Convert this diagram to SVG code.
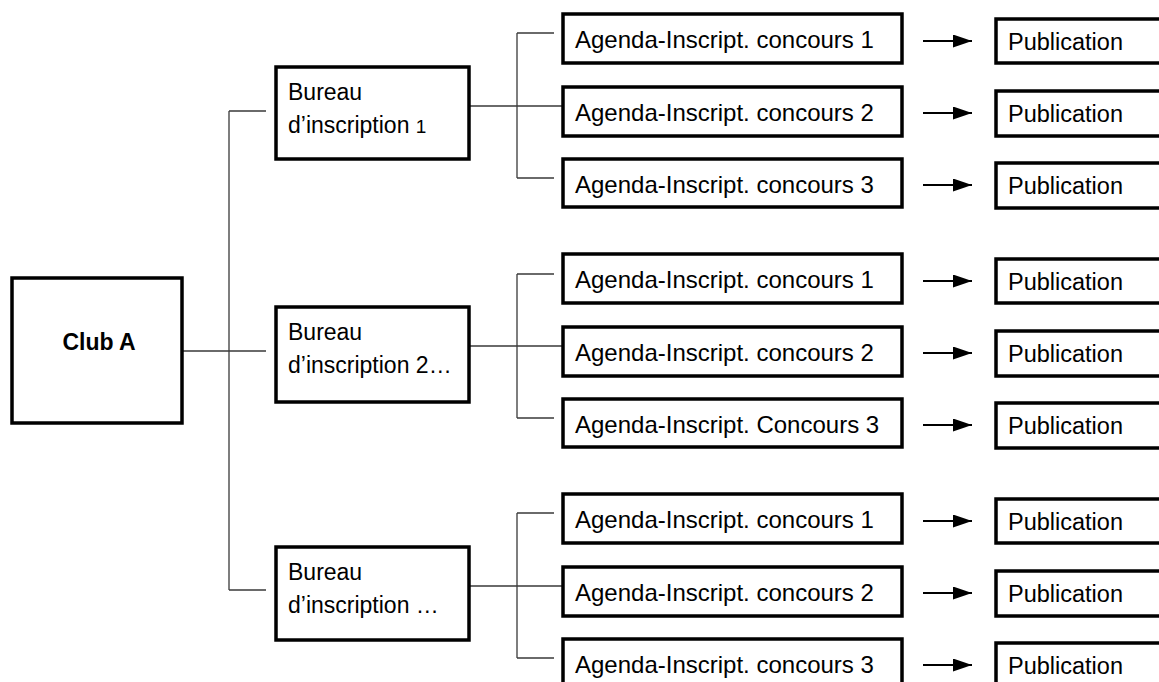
<svg xmlns="http://www.w3.org/2000/svg" width="1159" height="682" viewBox="0 0 1159 682">
<defs>
<style>
.box{fill:#fff;stroke:#000;stroke-width:3.5}
.t{font-family:"Liberation Sans",Arial,sans-serif;font-size:23px;fill:#000}
.a{font-size:24px}
.p{font-size:23.5px}
.b{font-weight:bold}
.c{fill:none;stroke:#3a3a3a;stroke-width:1.3}
.ar{fill:none;stroke:#000;stroke-width:2}
</style>
<marker id="ah" viewBox="0 0 10 10" refX="10" refY="5" markerWidth="19" markerHeight="13" markerUnits="userSpaceOnUse" orient="auto" preserveAspectRatio="none">
<path d="M0,0 L10,5 L0,10 z" fill="#000"/>
</marker>
</defs>
<rect width="1159" height="682" fill="#fff"/>
<g id="connectors">
<path class="c" d="M182,351 H266 M229,111 V590 M229,111 H266 M229,590 H266"/>
<path class="c" d="M469,106 H563 M517,33 V178 M517,33 H554 M517,178 H554"/>
<path class="c" d="M469,346 H563 M517,274 V418 M517,274 H554 M517,418 H554"/>
<path class="c" d="M469,586 H563 M517,513 V658 M517,513 H554 M517,658 H554"/>
<g class="ar" marker-end="url(#ah)">
<line x1="923" y1="41" x2="972" y2="41"/>
<line x1="923" y1="113" x2="972" y2="113"/>
<line x1="923" y1="185" x2="972" y2="185"/>
<line x1="923" y1="281" x2="972" y2="281"/>
<line x1="923" y1="353" x2="972" y2="353"/>
<line x1="923" y1="425" x2="972" y2="425"/>
<line x1="923" y1="521" x2="972" y2="521"/>
<line x1="923" y1="593" x2="972" y2="593"/>
<line x1="923" y1="665" x2="972" y2="665"/>
</g>
</g>
<g id="club-a"><rect class="box" x="12" y="278" width="170" height="145" stroke-width="4"/><text class="t b" x="99" y="350" text-anchor="middle" font-size="25">Club A</text></g>
<g id="bureau-1"><rect class="box" x="276" y="67" width="193" height="92"/><text class="t" x="288" y="100">Bureau</text><text class="t" x="288" y="133">d’inscription <tspan font-size="19">1</tspan></text></g>
<g id="bureau-2"><rect class="box" x="276" y="307" width="193" height="95"/><text class="t" x="288" y="340">Bureau</text><text class="t" x="288" y="373">d’inscription 2…</text></g>
<g id="bureau-3"><rect class="box" x="276" y="547" width="193" height="93"/><text class="t" x="288" y="580">Bureau</text><text class="t" x="288" y="613">d’inscription …</text></g>
<g id="agenda-1-1"><rect class="box" x="563" y="14" width="339" height="49"/><text class="t a" x="575" y="48">Agenda-Inscript. concours 1</text></g>
<g id="agenda-1-2"><rect class="box" x="563" y="87" width="339" height="49"/><text class="t a" x="575" y="121">Agenda-Inscript. concours 2</text></g>
<g id="agenda-1-3"><rect class="box" x="563" y="159" width="339" height="48"/><text class="t a" x="575" y="193">Agenda-Inscript. concours 3</text></g>
<g id="agenda-2-1"><rect class="box" x="563" y="254" width="339" height="49"/><text class="t a" x="575" y="288">Agenda-Inscript. concours 1</text></g>
<g id="agenda-2-2"><rect class="box" x="563" y="327" width="339" height="49"/><text class="t a" x="575" y="361">Agenda-Inscript. concours 2</text></g>
<g id="agenda-2-3"><rect class="box" x="563" y="399" width="339" height="48"/><text class="t a" x="575" y="433">Agenda-Inscript. Concours 3</text></g>
<g id="agenda-3-1"><rect class="box" x="563" y="494" width="339" height="49"/><text class="t a" x="575" y="528">Agenda-Inscript. concours 1</text></g>
<g id="agenda-3-2"><rect class="box" x="563" y="567" width="339" height="49"/><text class="t a" x="575" y="601">Agenda-Inscript. concours 2</text></g>
<g id="agenda-3-3"><rect class="box" x="563" y="639" width="339" height="48"/><text class="t a" x="575" y="673">Agenda-Inscript. concours 3</text></g>
<g id="pub-1-1"><rect class="box" x="996" y="19" width="170" height="44"/><text class="t p" x="1008" y="50">Publication</text></g>
<g id="pub-1-2"><rect class="box" x="996" y="91" width="170" height="45"/><text class="t p" x="1008" y="122">Publication</text></g>
<g id="pub-1-3"><rect class="box" x="996" y="163" width="170" height="45"/><text class="t p" x="1008" y="194">Publication</text></g>
<g id="pub-2-1"><rect class="box" x="996" y="259" width="170" height="44"/><text class="t p" x="1008" y="290">Publication</text></g>
<g id="pub-2-2"><rect class="box" x="996" y="331" width="170" height="45"/><text class="t p" x="1008" y="362">Publication</text></g>
<g id="pub-2-3"><rect class="box" x="996" y="403" width="170" height="45"/><text class="t p" x="1008" y="434">Publication</text></g>
<g id="pub-3-1"><rect class="box" x="996" y="499" width="170" height="44"/><text class="t p" x="1008" y="530">Publication</text></g>
<g id="pub-3-2"><rect class="box" x="996" y="571" width="170" height="45"/><text class="t p" x="1008" y="602">Publication</text></g>
<g id="pub-3-3"><rect class="box" x="996" y="643" width="170" height="45"/><text class="t p" x="1008" y="674">Publication</text></g>
</svg>
